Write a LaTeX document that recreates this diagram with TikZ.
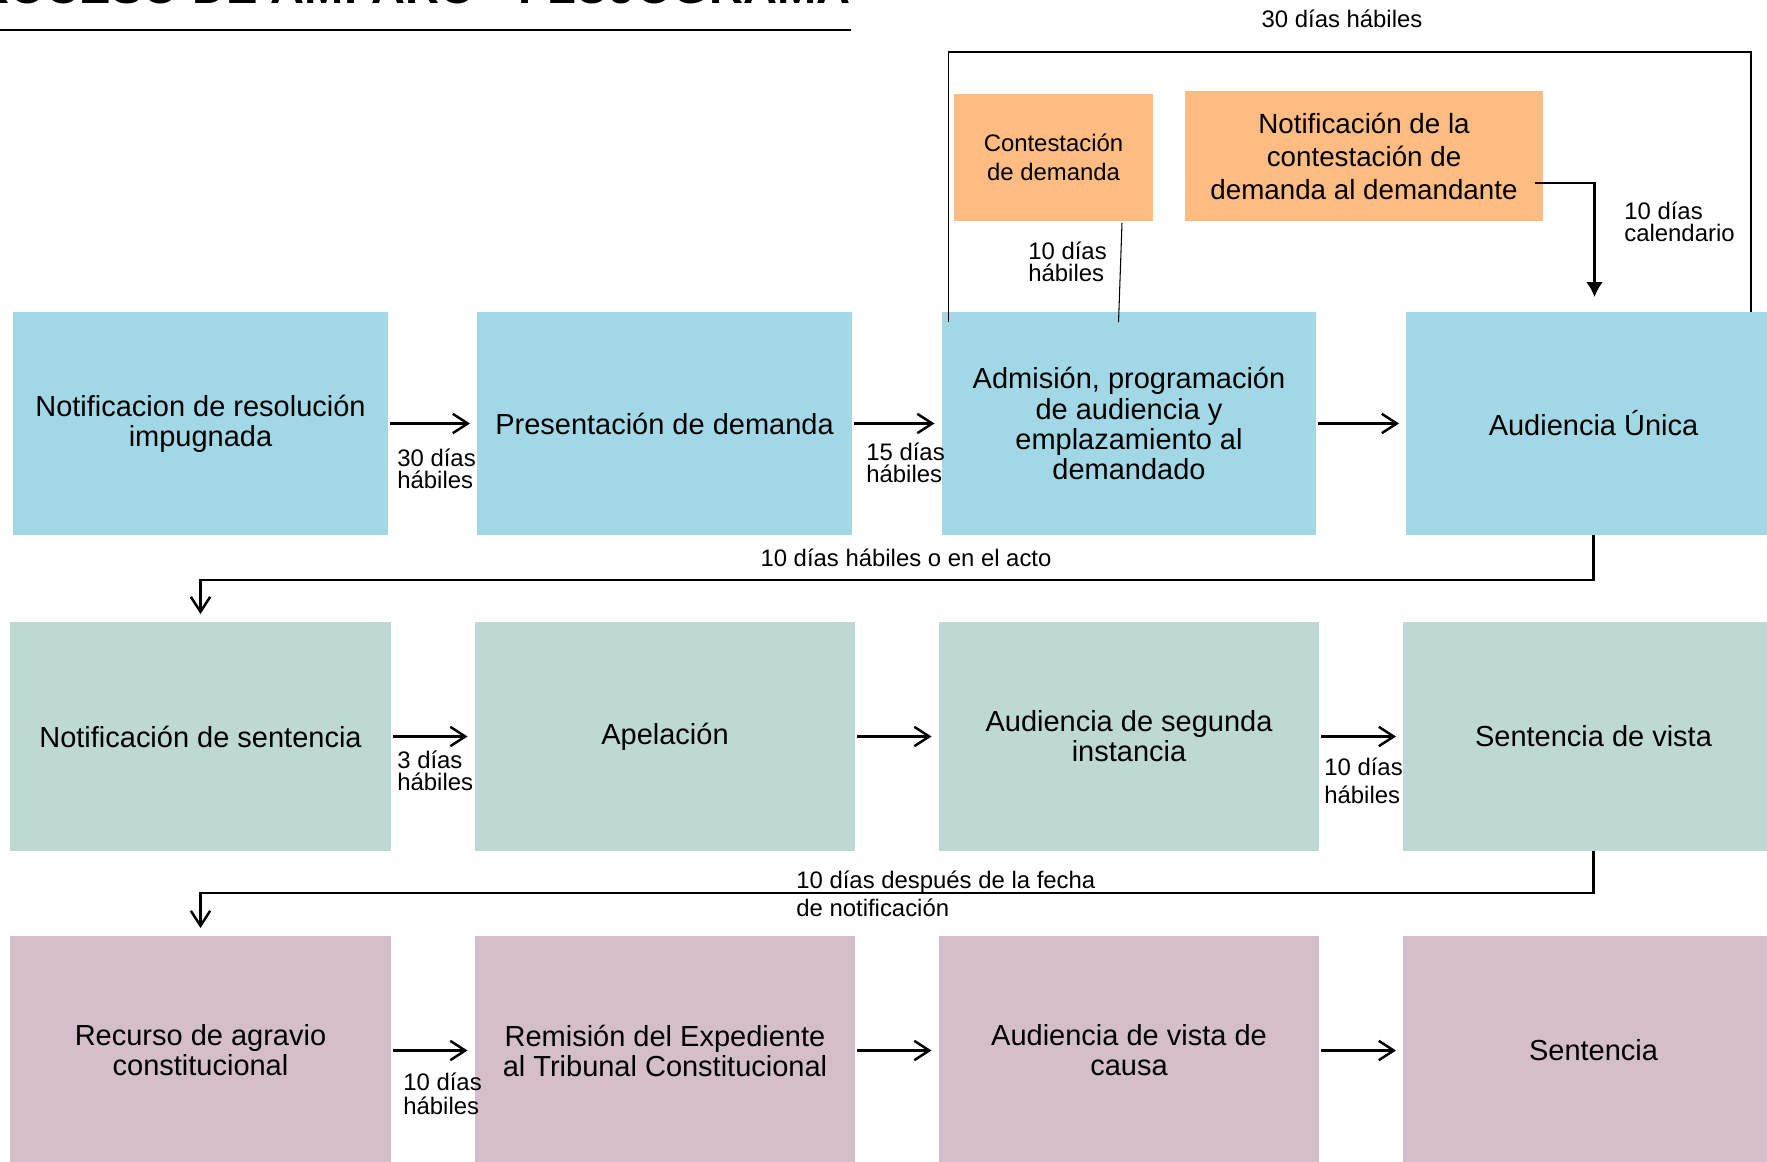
\documentclass[tikz,border=0pt]{standalone}
\usepackage{fontspec}
\setmainfont{Liberation Sans}
\usepackage{xcolor}
\usetikzlibrary{calc}
\usetikzlibrary{positioning}
\usetikzlibrary{arrows.meta}
\definecolor{celeste}{RGB}{162,216,230}
\definecolor{verdegris}{RGB}{190,217,211}
\definecolor{malva}{RGB}{211,190,202}
\definecolor{naranja}{RGB}{254,188,130}

\begin{document}
\begin{tikzpicture}[x=0.02cm,y=-0.02cm]
		\tikzset{>={Straight Barb[length=8.5pt,width=11pt]}}
		\tikzset{
			paso/.style={rectangle,inner sep=0pt,outer sep=0pt,align=center,font=\fontsize{16.5}{17.1}\selectfont},
			fila1/.style={paso,fill=celeste,minimum width=7.5cm,minimum height=4.46cm},
			fila2/.style={paso,fill=verdegris,minimum width=7.62cm,minimum height=4.58cm},
			fila3/.style={paso,fill=malva,minimum width=7.62cm,minimum height=4.58cm},
			plazo/.style={inner sep=0pt,align=left,font=\fontsize{13.6}{12.5}\selectfont},
			flecha/.style={->,line width=1.4pt,shorten <=1pt,shorten >=4pt},
			vuelta/.style={->,line width=1.4pt},
			fino/.style={line width=0.8pt}
		}
		\useasboundingbox (0,0) rectangle (1767,1162);
		
		\node[anchor=base east,inner sep=0pt,font=\bfseries\fontsize{26.8}{30}\selectfont] (titulo) at (851,3.5) {PROCESO DE AMPARO - FLUJOGRAMA};
		\draw[line width=0.85pt] (0,30) -- (851,30);
		
		\node[fila1] (a1) at (200.5,423.5) {Notificacion de resolución\\impugnada};
		\node[fila1] (a2) at (664.5,423.5) {Presentación de demanda};
		\node[fila1] (a3) at (1129,423.5) {Admisión, programación\\de audiencia y\\emplazamiento al\\demandado};
		\node[fila1] (a4) at (1593.5,423.5) {Audiencia Única};
		
		\node[fila2] (b1) at (200.5,736.5) {Notificación de sentencia};
		\node[fila2] (b2) at (665,736.5) {Apelación};
		\node[fila2] (b3) at (1129,736.5) {Audiencia de segunda\\instancia};
		\node[fila2] (b4) at (1593.5,736.5) {Sentencia de vista};
		
		\node[fila3] (c1) at (200.5,1050.5) {Recurso de agravio\\constitucional};
		\node[fila3] (c2) at (665,1050.5) {Remisión del Expediente\\al Tribunal Constitucional};
		\node[fila3] (c3) at (1129,1050.5) {Audiencia de vista de\\causa};
		\node[fila3] (c4) at (1593.5,1050.5) {Sentencia};
		
		\node[paso,fill=naranja,minimum width=3.98cm,minimum height=2.54cm,font=\fontsize{13.6}{16.5}\selectfont] (cont) at (1053.5,157.5) {Contestación\\de demanda};
		\node[paso,fill=naranja,minimum width=7.16cm,minimum height=2.6cm,font=\fontsize{15.8}{18.8}\selectfont] (nota) at (1364,156) {Notificación de la\\contestación de\\demanda al demandante};
		
		\draw[flecha] (a1.east) -- (a2.west);
		\draw[flecha] (a2.east) -- (a3.west);
		\draw[flecha] (a3.east) -- (a4.west);
		\draw[flecha] (b1.east) -- (b2.west);
		\draw[flecha] (b2.east) -- (b3.west);
		\draw[flecha] (b3.east) -- (b4.west);
		\draw[flecha] (c1.east) -- (c2.west);
		\draw[flecha] (c2.east) -- (c3.west);
		\draw[flecha] (c3.east) -- (c4.west);
		
		\node[plazo,anchor=west] at (397,469) {30 días\\hábiles};
		\node[plazo,anchor=west] at (866,463) {15 días\\hábiles};
		\node[plazo,anchor=west] at (397,771) {3 días\\hábiles};
		\node[plazo,anchor=west,font=\fontsize{13.6}{16}\selectfont] at (1324,781) {10 días\\hábiles};
		\node[plazo,anchor=west,font=\fontsize{13.6}{14}\selectfont] at (403,1094) {10 días\\hábiles};
		
		\draw[vuelta] (a4.south) -- ++(0,45) -| ($(b1.north)+(0,-8)$);
		\node[plazo] at (906,558) {10 días hábiles o en el acto};
		\draw[vuelta] (b4.south) -- ++(0,42) -| ($(c1.north)+(0,-8)$);
		\node[plazo,anchor=west,font=\fontsize{13.6}{16}\selectfont] at (796,894) {10 días después de la fecha\\de notificación};
		
		\draw[fino] ($(a3.north west)+(7,10)$) |- ($(a4.north east)+(-30,-260)$) -- ($(a4.north east)+(-30,0)$);
		\node[plazo] at (1342,19) {30 días hábiles};
		\draw[line width=0.6pt] ($(cont.south east)+(-31,2)$) -- ($(a3.north west)+(177,10)$);
		\node[plazo,anchor=west] at (1028,262) {10 días\\hábiles};
		\draw[line width=1.2pt,-{Latex[length=8.5pt,width=9.5pt]}] ($(nota.east)+(-8,27)$) -| ($(a4.north)+(1,-15)$);
		\node[plazo,anchor=west] at (1624,222) {10 días\\calendario};
		
\end{tikzpicture}
\end{document}
